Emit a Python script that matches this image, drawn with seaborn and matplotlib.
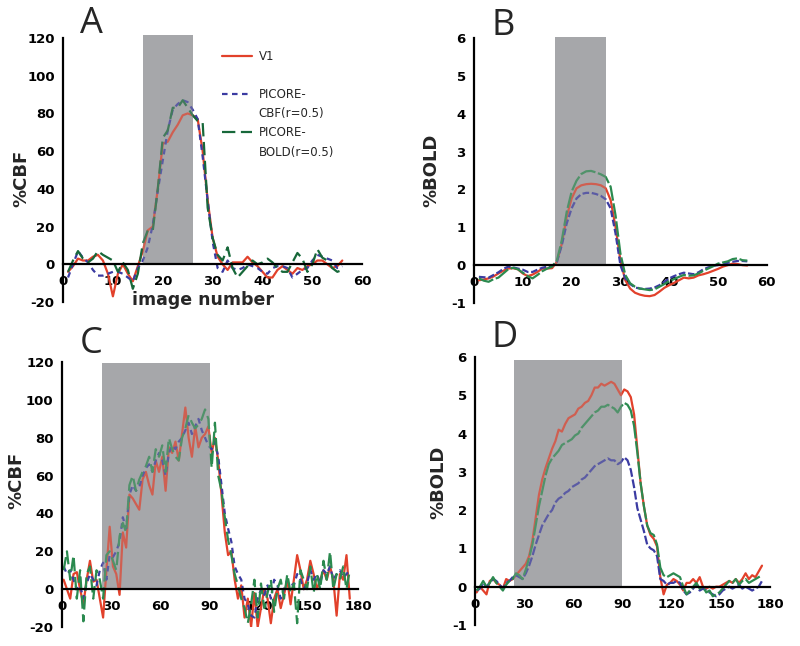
import matplotlib
matplotlib.use('Agg')
import matplotlib.pyplot as plt
from matplotlib.lines import Line2D
from matplotlib.patches import Rectangle
import seaborn as sns
import numpy as np
import pandas as pd

series_names = ['V1', 'PICORE-CBF(r=0.5)', 'PICORE-BOLD(r=0.5)']

# panel A: %CBF, image numbers 1..56
a_v1 = [-4, -1, 3, 2, 2, 4, 5, 2, -5, -17, -5, 0, -5, -9, -1, 7, 18, 20, 40, 64,
        65, 70, 74, 79, 80, 79, 77, 60, 34, 14, 4, 0, -3, 1, 1, 1, 4, 1, -1, -4,
        -7, -7, -3, -1, -3, -5, -2, -3, -1, 0, 2, 2, 0, -2, -1, 2]
a_cbf = [-7, 0, 7, 3.5, 1, -3, -6, -6, -5, -4, -4, -5, -7, -9, -2, 2, 9, 21, 39, 55,
         71, 82, 85, 87, 86, 82, 77, 57, 34, 12, -2, -4, 2, -2, -3, -2, 0, -1, -2, -4,
         -5, -2, -1, -1, -2, -7, -5, -3, -2, 2, 5, 4, 3, 2, -2, -1]
a_bold = [-4, 2, 7, 3, 1, 3, 7, 5, 3.5, 2, -4, 1, -3, -13, -5, 11, 18, 18, 40, 67,
          71, 83, 83, 87, 83, 79, 76, 75, 30, 14, 5, 2, 9, -2, -7, -4, -1, 2, 0, 1,
          3, 1, -2, -4, -4, 1, 6, 3, -4, 0, 8, 3.5, 2, -2, -4, -3]

# panel B: %BOLD, image numbers 1..56
b_v1 = [-0.4, -0.38, -0.35, -0.3, -0.22, -0.15, -0.09, -0.08, -0.11, -0.22, -0.29, -0.25,
        -0.18, -0.09, -0.09, -0.08, 0.09, 0.57, 1.28, 1.76, 2.03, 2.11, 2.14, 2.15, 2.14,
        2.11, 2.03, 1.72, 1.01, 0.13, -0.4, -0.62, -0.73, -0.78, -0.81, -0.82, -0.79, -0.7,
        -0.6, -0.53, -0.47, -0.4, -0.33, -0.35, -0.33, -0.27, -0.24, -0.2, -0.15, -0.1,
        -0.04, 0.0, 0.04, 0.03, 0.0, -0.01]
b_cbf = [-0.31, -0.32, -0.33, -0.26, -0.19, -0.1, -0.04, -0.06, -0.09, -0.12, -0.18, -0.18,
         -0.12, -0.07, -0.04, -0.02, 0.09, 0.53, 1.1, 1.5, 1.76, 1.88, 1.91, 1.91, 1.88,
         1.83, 1.74, 1.5, 0.84, 0.0, -0.35, -0.5, -0.59, -0.62, -0.63, -0.62, -0.59, -0.53,
         -0.44, -0.35, -0.29, -0.24, -0.2, -0.22, -0.24, -0.19, -0.11, -0.06, -0.02, 0.0,
         0.04, 0.06, 0.09, 0.11, 0.11, 0.1]
b_bold = [-0.35, -0.41, -0.44, -0.37, -0.33, -0.22, -0.11, -0.07, -0.11, -0.2, -0.29, -0.35,
          -0.26, -0.16, -0.09, -0.04, 0.13, 0.66, 1.41, 1.94, 2.23, 2.41, 2.48, 2.49, 2.45,
          2.4, 2.33, 2.07, 1.32, 0.31, -0.26, -0.48, -0.57, -0.62, -0.64, -0.66, -0.64, -0.57,
          -0.5, -0.42, -0.37, -0.31, -0.26, -0.28, -0.27, -0.22, -0.15, -0.09, -0.03, 0.04,
          0.07, 0.1, 0.16, 0.18, 0.13, 0.12]

# panel C: %CBF, image numbers 1, 3, ..., 175
c_v1 = [5, 0, -5, 8, 9, 0, -8, 5, 15, 4, 5, -5, -15, 10, 33, 12, 8, -3, 30, 22,
        50, 48, 45, 42, 58, 62, 55, 50, 68, 62, 70, 52, 75, 72, 78, 68, 82, 96, 80, 70,
        86, 75, 80, 82, 86, 72, 80, 68, 50, 30, 18, 20, 5, -5, 2, -15, -5, -20, -2, -20,
        -10, 0, -5, -18, -5, 0, -10, -3, 5, -8, 5, 18, 10, 0, 5, 15, 8, 0, 5, 10,
        5, 12, 5, -14, 8, 5, 18, -5]
c_cbf = [12, 8, 10, 5, 0, 2, -5, 3, 8, 5, 2, 10, 14, 5, 18, 17, 20, 25, 38, 32,
         50, 55, 52, 54, 60, 64, 66, 62, 68, 72, 68, 60, 72, 76, 74, 78, 80, 84, 88, 82,
         86, 90, 84, 80, 76, 74, 78, 70, 55, 40, 32, 25, 12, 8, 5, -5, -8, -14, -15, -5,
         0, -3, 2, -5, 5, 2, -5, 0, 5, 3, 2, 8, 5, 0, 3, 10, 5, 8, 3, 10,
         8, 12, 5, 8, 10, 6, 8, 10]
c_bold = [10, 20, 5, 18, -5, 10, -17, 8, 12, -5, 10, 5, -5, 18, 20, 15, 10, 28, 35, 30,
          55, 60, 52, 58, 62, 65, 70, 62, 74, 70, 76, 62, 80, 74, 70, 68, 80, 85, 92, 88,
          85, 87, 90, 95, 90, 64, 88, 60, 52, 38, 26, 18, 8, 2, -5, -10, -18, -8, 5, -15,
          3, -10, -2, 5, -12, 0, 5, -5, 8, -2, 3, -18, 10, 5, 0, 12, -2, 8, 0, 15,
          5, 20, 0, 8, 5, 12, 0, 10]

# panel D: %BOLD, image numbers 1, 3, ..., 175
d_v1 = [-0.15, 0.0, -0.1, -0.2, 0.15, 0.2, 0.1, 0.05, -0.05, 0.2, 0.15, 0.2, 0.3, 0.4, 0.5,
        0.6, 0.8, 1.2, 1.8, 2.4, 2.8, 3.1, 3.35, 3.6, 3.8, 4.1, 4.05, 4.25, 4.4, 4.45,
        4.5, 4.65, 4.7, 4.8, 4.85, 5.0, 5.2, 5.2, 5.3, 5.25, 5.3, 5.35, 5.3, 5.15, 5.0,
        5.15, 5.1, 4.95, 4.5, 3.6, 2.7, 2.1, 1.6, 1.35, 1.25, 1.05,
        0.25, -0.2, 0.05, 0.1, 0.2, 0.15, 0.05, -0.1, 0.1, 0.1, 0.2, 0.1, 0.25, 0.0,
        -0.05, 0.0, -0.05, 0.0, 0.0, 0.05, 0.1, 0.15, 0.1, 0.2, 0.1, 0.2, 0.35, 0.2,
        0.3, 0.25, 0.4, 0.55]
d_cbf = [-0.1, -0.05, 0.1, 0.0, 0.1, 0.2, 0.15, 0.05, -0.05, 0.1, 0.15, 0.25, 0.3, 0.25, 0.2,
         0.35, 0.55, 0.8, 1.1, 1.35, 1.6, 1.75, 1.9, 2.0, 2.2, 2.3, 2.35, 2.45, 2.5, 2.6,
         2.65, 2.7, 2.8, 2.85, 2.95, 3.05, 3.15, 3.2, 3.25, 3.3, 3.35, 3.3, 3.3, 3.2, 3.25,
         3.38, 3.3, 3.05, 2.6, 2.05, 1.75, 1.45, 1.1, 1.0, 0.95, 0.8,
         0.2, 0.15, 0.05, 0.1, 0.1, 0.15, 0.1, -0.1, -0.2, -0.15, -0.05, 0.05, -0.1, -0.05,
         -0.1, -0.15, -0.2, -0.25, -0.2, -0.1, -0.05, 0.0, -0.05, 0.0, 0.05, -0.05, 0.0, -0.05,
         -0.1, -0.05, 0.0, 0.15]
d_bold = [-0.1, 0.0, 0.15, 0.0, 0.1, 0.25, 0.1, 0.0, -0.1, 0.05, 0.15, 0.2, 0.35, 0.3, 0.2,
          0.45, 0.75, 1.1, 1.6, 2.1, 2.5, 2.9, 3.2, 3.35, 3.45, 3.55, 3.7, 3.75, 3.8, 3.85,
          3.95, 4.0, 4.15, 4.25, 4.35, 4.45, 4.55, 4.6, 4.7, 4.7, 4.75, 4.7, 4.65, 4.55, 4.7,
          4.8, 4.75, 4.6, 4.2, 3.5, 2.7, 2.1, 1.6, 1.4, 1.35, 1.1,
          0.5, 0.3, 0.25, 0.3, 0.35, 0.3, 0.25, 0.0, -0.2, -0.1, 0.0, 0.1, -0.05, 0.0,
          -0.15, -0.1, -0.25, -0.2, -0.15, -0.05, 0.05, 0.15, 0.1, 0.2, 0.05, 0.15, 0.2, 0.1,
          0.15, 0.2, 0.25, 0.3]

# stimulus blocks (start, end, top)
shade_a = (16, 26, 121.6)
shade_b = (16.5, 27, 6.02)
shade_c = (24.3, 90, 119.5)
shade_d = (23.8, 89.7, 5.93)

red = '#e2412b'
blue = '#3b3ba2'
green_dark = '#17683a'
green = '#2b8a4f'
gray = '#a6a7aa'


def long_frame(step, v1, cbf, bold):
    parts = []
    for name, vals in zip(series_names, [v1, cbf, bold]):
        x = 1 + step * np.arange(len(vals))
        parts.append(pd.DataFrame({'image': x, 'value': vals, 'series': name}))
    return pd.concat(parts, ignore_index=True)


sns.set_style('white')
plt.rcParams['font.family'] = ['DejaVu Sans']
plt.rcParams['axes.unicode_minus'] = False

fig = plt.figure(figsize=(8, 6.46), dpi=100)
ax_a = fig.add_axes([0.0788, 0.5325, 0.374, 0.4087])
ax_b = fig.add_axes([0.5925, 0.531, 0.366, 0.410])
ax_c = fig.add_axes([0.0775, 0.0294, 0.370, 0.410])
ax_d = fig.add_axes([0.59375, 0.0325, 0.369, 0.415])


def panel(ax, df, green_c, dash_cbf, dash_bold, xmax, xstep, ylim, ystep,
          shade, ylabel, lab_xy):
    x0, x1, top = shade
    ax.add_patch(Rectangle((x0, 0), x1 - x0, top, facecolor=gray, edgecolor='none',
                           zorder=1, clip_on=False))
    sns.lineplot(data=df, x='image', y='value', hue='series', style='series',
                 hue_order=series_names, style_order=series_names,
                 palette={series_names[0]: red, series_names[1]: blue, series_names[2]: green_c},
                 dashes={series_names[0]: '', series_names[1]: dash_cbf, series_names[2]: dash_bold},
                 estimator=None, sort=False, linewidth=1.6, legend=False, ax=ax)
    # light veil so the traces look dimmed inside the block, as in the original
    ax.add_patch(Rectangle((x0, 0), x1 - x0, top, facecolor=gray, edgecolor='none',
                           alpha=0.3, zorder=2.3, clip_on=False))
    ax.set_xlim(0, xmax)
    ax.set_ylim(*ylim)
    ax.set_xticks(np.arange(0, xmax + 1, xstep))
    ax.set_yticks(np.arange(ylim[0], ylim[1] + ystep / 2, ystep))
    ax.spines['top'].set_visible(False)
    ax.spines['right'].set_visible(False)
    ax.spines['bottom'].set_position(('data', 0))
    for s in ['left', 'bottom']:
        ax.spines[s].set_linewidth(1.6)
        ax.spines[s].set_color('black')
        ax.spines[s].set_zorder(3)
    ax.tick_params(axis='both', direction='out', width=1.4, colors='black', labelsize=9.5)
    ax.tick_params(axis='y', length=4.5, pad=1.5)
    ax.tick_params(axis='x', length=3, pad=5)
    for lab in ax.get_xticklabels() + ax.get_yticklabels():
        lab.set_fontweight('bold')
    ax.set_xlabel('')
    ax.set_ylabel(ylabel, fontsize=13, fontweight='bold')
    ax.yaxis.set_label_coords(*lab_xy)


panel(ax_a, long_frame(1, a_v1, a_cbf, a_bold), green_dark, (2.5, 2), (6, 2.5),
      60, 10, (-20, 120), 20, shade_a, '%CBF', (-0.11, 0.47))
panel(ax_b, long_frame(1, b_v1, b_cbf, b_bold), green, (3, 1.2), (7, 1.2),
      60, 10, (-1, 6), 1, shade_b, '%BOLD', (-0.116, 0.5))
panel(ax_c, long_frame(2, c_v1, c_cbf, c_bold), green, (2.5, 2), (6, 2.5),
      180, 30, (-20, 120), 20, shade_c, '%CBF', (-0.125, 0.555))
panel(ax_d, long_frame(2, d_v1, d_cbf, d_bold), green, (4, 1.2), (8, 1.2),
      180, 30, (-1, 6), 1, shade_d, '%BOLD', (-0.095, 0.534))

ax_a.set_xlabel('image number', fontsize=12.5, fontweight='bold', va='top')
ax_a.xaxis.set_label_coords(0.468, 0.04)

handles = [Line2D([], [], color=red, lw=1.6),
           Line2D([], [], color='none'),
           Line2D([], [], color=blue, lw=1.6, dashes=(2.5, 2)),
           Line2D([], [], color='none'),
           Line2D([], [], color=green_dark, lw=1.6, dashes=(6, 2.5)),
           Line2D([], [], color='none')]
labels = ['V1', ' ', 'PICORE-', 'CBF(r=0.5)', 'PICORE-', 'BOLD(r=0.5)']
ax_a.legend(handles, labels, loc='upper left', bbox_to_anchor=(0.53, 0.955),
            frameon=False, fontsize=8.5, handlelength=2.6, handletextpad=0.55,
            labelspacing=0.52, borderpad=0, borderaxespad=0)

for letter, x, y in [('A', 0.1, 0.949), ('B', 0.614, 0.946),
                     ('C', 0.1, 0.4536), ('D', 0.614, 0.463)]:
    fig.text(x, y, letter, fontsize=26, family=['Open Sans', 'DejaVu Sans'],
             va='baseline', ha='left')

fig.savefig('out.png', dpi=100, facecolor='white')
